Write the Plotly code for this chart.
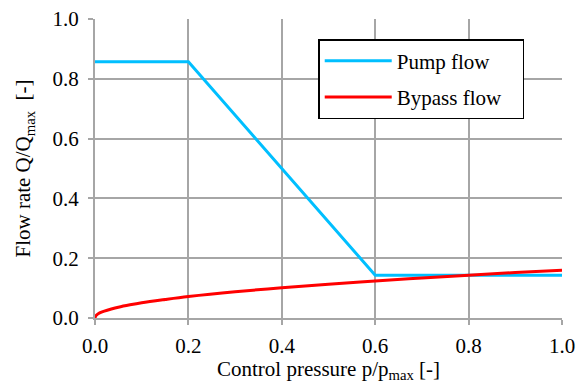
import plotly.graph_objects as go

# Data
pump_p = [0.0, 0.2, 0.6, 1.0]
pump_q = [0.857, 0.857, 0.143, 0.143]

bypass_p = [0.0, 0.002, 0.005, 0.01, 0.02, 0.035, 0.05, 0.075, 0.1, 0.15, 0.2, 0.3, 0.4, 0.5, 0.6, 0.7, 0.8, 0.9, 1.0]
bypass_q = [0.0, 0.008, 0.012, 0.017, 0.023, 0.030, 0.036, 0.044, 0.051, 0.062, 0.072, 0.088, 0.101, 0.113, 0.124, 0.134, 0.143, 0.152, 0.160]

x_ticks = [0.0, 0.2, 0.4, 0.6, 0.8, 1.0]
y_ticks = [0.0, 0.2, 0.4, 0.6, 0.8, 1.0]
series_names = ["Pump flow", "Bypass flow"]

FONT = "Times New Roman, Liberation Serif, serif"
GRID = "#a6a6a6"
FS = 21
PAD = "\u00a0\u00a0\u00a0"

fig = go.Figure()
fig.add_trace(go.Scatter(x=pump_p, y=pump_q, mode="lines", name=series_names[0] + PAD,
                         line=dict(color="#00bfff", width=3), legendgroup="a"))
fig.add_trace(go.Scatter(x=bypass_p, y=bypass_q, mode="lines", name=series_names[1] + PAD,
                         line=dict(color="#ff0000", width=3, shape="spline"), legendgroup="b"))

fig.update_layout(
    width=584, height=383,
    margin=dict(l=95, r=22, t=19, b=65),
    paper_bgcolor="white", plot_bgcolor="white",
    font=dict(family=FONT, size=FS, color="black"),
    showlegend=True,
    legend=dict(x=0.478, y=0.933, xanchor="left", yanchor="top",
                bordercolor="black", borderwidth=1.5, bgcolor="white",
                font=dict(family=FONT, size=FS, color="black"),
                traceorder="grouped", tracegroupgap=6,
                itemwidth=67),
    xaxis=dict(range=[0, 1], tickvals=x_ticks, ticktext=[f"{v:.1f}" for v in x_ticks],
               showgrid=True, gridcolor=GRID, gridwidth=1.5,
               showline=True, linecolor=GRID, linewidth=1.5, mirror=False,
               ticks="outside", ticklen=5, tickcolor=GRID, tickwidth=1.5,
               ticklabelstandoff=3, automargin=False,
               zeroline=False,
               title=dict(text="Control pressure p/p<sub>max</sub> [-]", standoff=2,
                          font=dict(family=FONT, size=FS, color="black")),
               tickfont=dict(family=FONT, size=FS, color="black")),
    yaxis=dict(range=[0, 1], tickvals=y_ticks, ticktext=[f"{v:.1f}\u00a0" for v in y_ticks],
               showgrid=True, gridcolor=GRID, gridwidth=1.5,
               showline=True, linecolor=GRID, linewidth=1.5,
               ticks="outside", ticklen=5, tickcolor=GRID, tickwidth=1.5,
               automargin=False,
               zeroline=False,
               title=dict(text="Flow rate Q/Q<sub>max</sub>  [-]", standoff=16,
                          font=dict(family=FONT, size=FS, color="black")),
               tickfont=dict(family=FONT, size=FS, color="black")),
)
fig.write_html("out.html")
